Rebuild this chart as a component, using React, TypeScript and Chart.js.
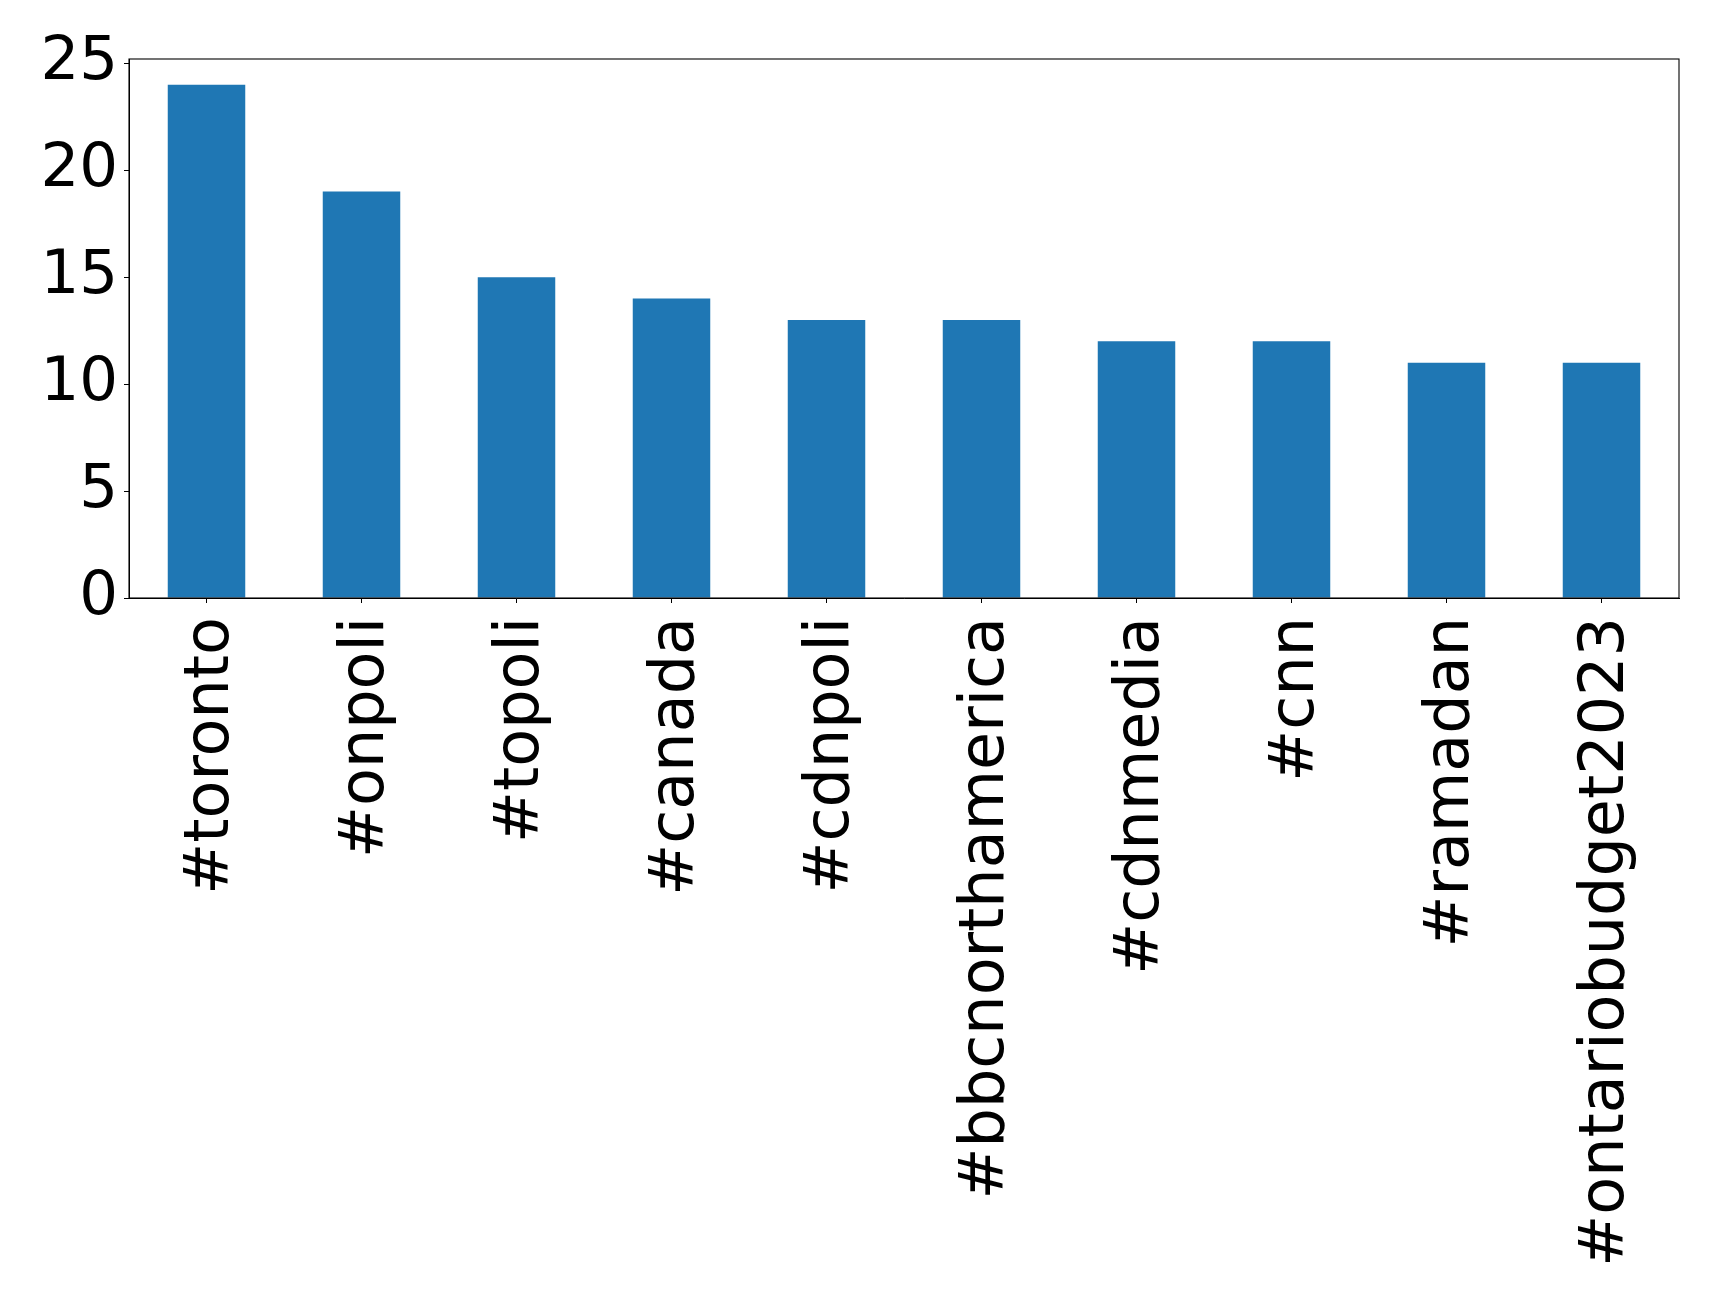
import React, { useEffect, useRef } from "react";
import { Chart, registerables } from "chart.js";

Chart.register(...registerables);

const categories = [
  "#toronto",
  "#onpoli",
  "#topoli",
  "#canada",
  "#cdnpoli",
  "#bbcnorthamerica",
  "#cdnmedia",
  "#cnn",
  "#ramadan",
  "#ontariobudget2023",
];
const counts = [24, 19, 15, 14, 13, 13, 12, 12, 11, 11];
const yTicks = [0, 5, 10, 15, 20, 25];

const W = 1719;
const H = 1302;

const frame = {
  id: "frame",
  afterDraw(chart: any) {
    const { ctx, chartArea } = chart;
    ctx.save();
    ctx.strokeStyle = "#000";
    ctx.lineWidth = 1.1;
    ctx.strokeRect(chartArea.left, chartArea.top, chartArea.right - chartArea.left, chartArea.bottom - chartArea.top);
    ctx.restore();
  },
};

export default function App() {
  const ref = useRef<HTMLCanvasElement | null>(null);
  useEffect(() => {
    if (!ref.current) return;
    const chart = new Chart(ref.current, {
      type: "bar",
      data: {
        labels: categories,
        datasets: [
          {
            data: counts,
            backgroundColor: "#1f77b4",
            barPercentage: 0.5,
            categoryPercentage: 1,
          },
        ],
      },
      options: {
        responsive: false,
        animation: false,
        devicePixelRatio: 1,
        layout: { padding: { top: 59, right: 40, left: 0, bottom: 0 } },
        plugins: { legend: { display: false }, tooltip: { enabled: false } },
        scales: {
          x: {
            offset: true,
            grid: { display: true, drawOnChartArea: false, tickLength: 5, tickColor: "#000", offset: false },
            border: { color: "#000", width: 1 },
            ticks: {
              color: "#000",
              font: { family: "DejaVu Sans", size: 62 },
              minRotation: 90,
              maxRotation: 90,
              autoSkip: false,
              padding: 14,
              labelOffset: 5,
            },
            afterFit: (s: any) => {
              s.height = H - 598;
            },
          },
          y: {
            min: 0,
            max: 25.2,
            grid: { display: true, drawOnChartArea: false, tickLength: 5, tickColor: "#000" },
            border: { color: "#000", width: 1 },
            ticks: {
              color: "#000",
              font: { family: "DejaVu Sans", size: 61 },
              stepSize: 5,
              includeBounds: false,
              padding: 6,
              callback: (v: any) => (yTicks.includes(Number(v)) ? String(v) : ""),
            },
            afterFit: (s: any) => {
              s.width = 129;
            },
          },
        },
      },
      plugins: [frame],
    });
    return () => chart.destroy();
  }, []);
  return (
    <canvas
      ref={ref}
      width={W}
      height={H}
      style={{ position: "fixed", left: 0, top: 0, width: W, height: H, display: "block", background: "#fff" }}
    />
  );
}
